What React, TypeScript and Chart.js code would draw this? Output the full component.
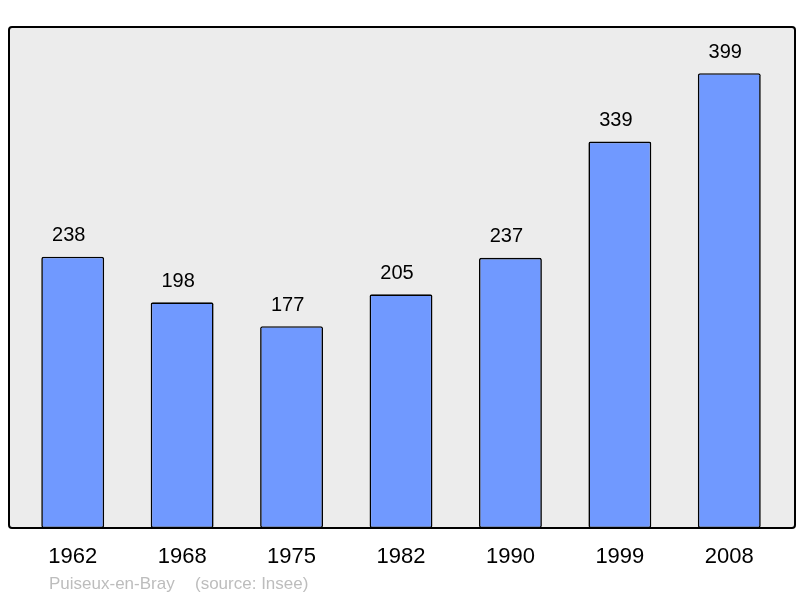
import React, { useEffect, useRef } from "react";
import { Chart, registerables } from "chart.js";

Chart.register(...registerables);

const years = ["1962", "1968", "1975", "1982", "1990", "1999", "2008"];
const population = [238, 198, 177, 205, 237, 339, 399];
const townName = "Puiseux-en-Bray";
const sourceText = "(source: Insee)";

const FONT = "'Liberation Sans', Arial, sans-serif";

const framePlugin = {
  id: "frame",
  beforeDraw(chart: any) {
    const ctx = chart.ctx;
    const x0 = 9, y0 = 27, x1 = 795, y1 = 528;
    ctx.save();
    ctx.beginPath();
    if (ctx.roundRect) ctx.roundRect(x0, y0, x1 - x0, y1 - y0, 3);
    else ctx.rect(x0, y0, x1 - x0, y1 - y0);
    ctx.fillStyle = "#ececec";
    ctx.fill();
    ctx.restore();
  },
  afterDatasetsDraw(chart: any) {
    const ctx = chart.ctx;
    const x0 = 9, y0 = 27, x1 = 795, y1 = 528;
    ctx.save();
    ctx.beginPath();
    if (ctx.roundRect) ctx.roundRect(x0, y0, x1 - x0, y1 - y0, 3);
    else ctx.rect(x0, y0, x1 - x0, y1 - y0);
    ctx.lineWidth = 2;
    ctx.strokeStyle = "#000";
    ctx.stroke();

    const xs = chart.scales.x;
    const ys = chart.scales.y;
    ctx.fillStyle = "#000";
    ctx.textAlign = "center";
    ctx.textBaseline = "middle";
    ctx.font = `20px ${FONT}`;
    population.forEach((v, i) => {
      ctx.fillText(String(v), xs.getPixelForValue(i) - 4, ys.getPixelForValue(v) - 21);
    });
    ctx.font = `22px ${FONT}`;
    years.forEach((y, i) => {
      ctx.fillText(y, xs.getPixelForValue(i), 557);
    });
    ctx.font = `17px ${FONT}`;
    ctx.fillStyle = "#bdbdbd";
    ctx.textAlign = "left";
    ctx.fillText(townName, 49, 584);
    ctx.fillText(sourceText, 195, 584);
    ctx.restore();
  },
};

export default function App() {
  const ref = useRef<HTMLCanvasElement>(null);
  useEffect(() => {
    document.body.style.margin = "0";
    const chart = new Chart(ref.current!, {
      type: "bar",
      data: {
        labels: years,
        datasets: [
          {
            data: population,
            backgroundColor: "#7099ff",
            borderColor: "#000",
            borderWidth: 1.6,
            borderRadius: 2,
            borderSkipped: false,
            barPercentage: 0.575,
            categoryPercentage: 1,
          },
        ],
      },
      options: {
        responsive: false,
        animation: false,
        layout: { padding: { left: 18, right: 16, top: 27, bottom: 70 } },
        plugins: { legend: { display: false }, tooltip: { enabled: false } },
        scales: {
          x: { display: false },
          y: { display: false, min: 0, max: 439.5 },
        },
      },
      plugins: [framePlugin],
    });
    return () => chart.destroy();
  }, []);
  return (
    <div style={{ position: "absolute", left: 0, top: 0 }}>
      <canvas ref={ref} width={800} height={598} style={{ display: "block" }} />
    </div>
  );
}
